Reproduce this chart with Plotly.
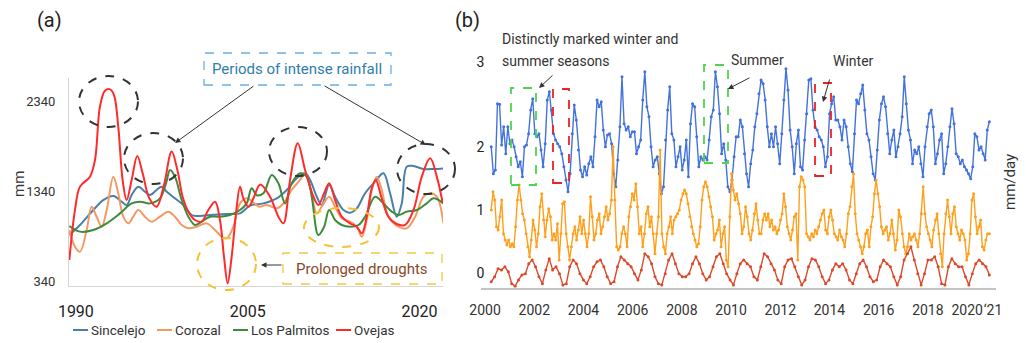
import numpy as np
import plotly.graph_objects as go

# ---------------- Panel (a): annual rainfall (mm) ----------------
sincelejo_year = [1989.43, 1990.36, 1991.52, 1992.39, 1993.27, 1994.00, 1994.43, 1994.87, 1995.45, 1996.03,
                  1996.47, 1997.05, 1997.49, 1997.93, 1998.65, 1999.38, 2000.11, 2000.55, 2001.71, 2003.17,
                  2004.33, 2005.20, 2006.37, 2007.53, 2008.41, 2009.28, 2010.01, 2010.45, 2011.03, 2011.46,
                  2012.11, 2012.63, 2013.36, 2013.94, 2014.52, 2015.25, 2016.12, 2016.85, 2017.43, 2018.01,
                  2018.45, 2018.89, 2019.47, 2020.34, 2021.22, 2022.09]
sincelejo_mm = [859, 970, 1136, 1247, 1292, 1229, 1192, 1303, 1396, 1340,
                1303, 1359, 1396, 1340, 1266, 1192, 1081, 1070, 1081, 1092,
                1099, 1185, 1210, 1266, 1359, 1488, 1544, 1470, 1284, 1192,
                1414, 1284, 1136, 1107, 1155, 1322, 1451, 1544, 1322, 1062,
                1210, 1618, 1625, 1592, 1592, 1599]

corozal_year = [1989.43, 1989.92, 1990.36, 1990.94, 1991.38, 1991.81, 1992.25, 1992.69, 1993.27, 1993.70,
                1994.14, 1994.58, 1995.01, 1995.45, 1996.03, 1996.61, 1997.34, 1998.07, 1998.65, 1999.24,
                1999.82, 2000.55, 2001.42, 2002.15, 2002.73, 2003.17, 2003.75, 2004.33, 2004.91, 2005.50,
                2006.00, 2006.66, 2007.53, 2008.12, 2008.84, 2009.57, 2010.01, 2010.45, 2011.03, 2011.46,
                2012.11, 2012.63, 2013.21, 2013.94, 2014.52, 2014.96, 2015.39, 2015.83, 2016.27, 2016.70,
                2017.29, 2018.16, 2018.89, 2019.62, 2020.34, 2020.93, 2021.51, 2022.09]
corozal_mm = [914, 729, 673, 914, 1173, 1062, 951, 1136, 1507, 1322,
              1062, 988, 1062, 1136, 1062, 1007, 1062, 1118, 1062, 970,
              933, 951, 988, 914, 840, 822, 951, 1210, 1266, 1220,
              1173, 1192, 1155, 1210, 1359, 1470, 1544, 1396, 1099, 1173,
              1284, 1173, 1044, 1007, 951, 840, 1025, 1359, 1507, 1359,
              1062, 951, 933, 1062, 1284, 1322, 1284, 988]

palmitos_year = [1989.43, 1990.36, 1991.52, 1992.69, 1993.85, 1994.87, 1995.60, 1996.47, 1997.34, 1997.87,
                 1998.22, 1998.65, 1999.24, 1999.82, 2000.40, 2000.98, 2001.71, 2002.58, 2003.46, 2004.33,
                 2004.91, 2005.35, 2005.79, 2006.37, 2007.10, 2007.68, 2008.26, 2008.84, 2009.57, 2010.15,
                 2010.59, 2011.17, 2011.67, 2012.11, 2012.63, 2013.21, 2013.94, 2014.67, 2015.25, 2016.12,
                 2016.85, 2017.58, 2018.16, 2018.89, 2019.76, 2020.63, 2021.22, 2022.09]
palmitos_mm = [959, 896, 914, 988, 1099, 1210, 1229, 1210, 1266, 1433,
               1581, 1507, 1247, 1062, 970, 1007, 1062, 1062, 1081, 1136,
               1210, 1377, 1300, 1322, 1525, 1433, 1210, 1433, 1544, 1507,
               1284, 859, 951, 1136, 1025, 970, 951, 970, 1062, 1284,
               1210, 1118, 1081, 1118, 1136, 1210, 1266, 1210]

ovejas_year = [1989.43, 1989.92, 1990.36, 1991.23, 1991.67, 1992.10, 1992.54, 1992.98, 1993.33, 1993.70,
               1994.08, 1994.43, 1994.87, 1995.36, 1995.83, 1996.41, 1997.05, 1997.69, 1998.36, 1998.86,
               1999.32, 1999.82, 2000.40, 2000.98, 2001.56, 2002.15, 2002.58, 2002.93, 2003.25, 2003.60,
               2003.98, 2004.33, 2004.62, 2005.06, 2005.50, 2006.10, 2006.95, 2007.68, 2008.12, 2008.70,
               2009.37, 2010.01, 2010.74, 2011.17, 2011.67, 2012.11, 2012.63, 2013.21, 2013.94, 2014.52,
               2014.96, 2015.39, 2015.83, 2016.18, 2016.70, 2017.29, 2018.01, 2018.74, 2019.47, 2020.20,
               2020.93, 2021.51, 2022.03]
ovejas_mm = [581, 1136, 1396, 1507, 1692, 2285, 2462, 2477, 2414, 2062,
             1470, 1247, 1470, 1736, 1544, 1266, 1173, 1414, 1785, 1581,
             1284, 1118, 1025, 1007, 1136, 1229, 1025, 618, 321, 618,
             1099, 1396, 1266, 1173, 1266, 1420, 1284, 1062, 988, 1470,
             1877, 1581, 1284, 1192, 1322, 1433, 1247, 1062, 988, 951,
             877, 1062, 1377, 1470, 1266, 1062, 981, 970, 1136, 1507,
             1710, 1507, 1210]

a_x_ticks = [1990, 2005, 2020]
a_y_ticks = [340, 1340, 2340]
a_names = ["Sincelejo", "Corozal", "Los Palmitos", "Ovejas"]
a_colors = ["#4a7fa8", "#f39a64", "#3c8c3c", "#ff2b2b"]

# ---------------- Panel (b): monthly series (mm/day) ----------------
b_first = 2000 + 3 / 12   # April 2000
b_last = 2020 + 6 / 12    # July 2020

b_blue = [2.02, 1.59, 1.65, 2.71, 2.70, 2.05, 2.34, 1.91, 2.34, 2.07, 2.13, 2.02, 1.86, 1.70, 1.78, 1.54, 2.02, 2.05,
          2.23, 2.61, 2.79, 2.23, 2.18, 2.23, 1.97, 1.70, 2.07, 2.77, 2.90, 2.61, 2.23, 2.13, 2.07, 2.02, 1.91, 1.70,
          1.49, 1.30, 1.59, 2.23, 2.69, 2.45, 1.97, 1.65, 1.54, 1.70, 1.57, 1.75, 1.86, 1.70, 2.18, 2.77, 2.66, 2.74,
          2.29, 2.02, 2.21, 2.23, 2.07, 1.59, 1.38, 1.81, 2.34, 3.14, 2.39, 2.29, 2.34, 2.18, 2.26, 2.26, 1.91, 2.02,
          2.13, 2.77, 3.22, 2.66, 2.50, 2.02, 1.70, 1.81, 1.86, 1.59, 1.27, 1.38, 2.13, 2.61, 2.98, 2.23, 2.13, 1.70,
          1.86, 2.02, 1.65, 1.81, 2.13, 1.54, 2.39, 2.71, 2.66, 2.18, 1.70, 1.86, 1.81, 1.86, 1.81, 2.13, 2.50, 2.61,
          3.22, 2.98, 2.55, 1.91, 2.07, 1.81, 1.38, 1.30, 1.49, 1.86, 2.18, 2.18, 2.45, 2.34, 1.91, 1.59, 1.38, 1.75,
          1.97, 2.34, 2.55, 2.87, 3.09, 3.03, 2.77, 2.34, 2.02, 2.23, 2.02, 2.34, 2.07, 1.75, 2.23, 2.77, 3.27, 2.93,
          2.29, 2.02, 1.59, 2.07, 2.29, 1.70, 1.65, 2.13, 2.55, 3.09, 3.11, 2.61, 2.34, 2.29, 2.18, 2.13, 2.02, 1.70,
          1.86, 2.55, 2.71, 2.82, 2.45, 2.45, 2.34, 2.13, 2.45, 2.34, 2.02, 1.75, 1.62, 2.23, 2.77, 2.71, 2.87, 3.01,
          2.61, 2.23, 2.13, 1.86, 1.59, 1.49, 1.97, 2.45, 2.71, 2.82, 2.66, 2.23, 1.91, 2.13, 2.29, 1.86, 2.02, 2.23,
          2.50, 3.14, 2.71, 2.29, 2.13, 1.75, 1.97, 1.91, 2.02, 1.75, 1.54, 2.02, 2.34, 2.55, 2.61, 2.34, 1.75, 1.91,
          2.13, 2.23, 1.59, 1.75, 2.02, 2.34, 2.63, 2.39, 1.91, 1.86, 1.75, 1.81, 1.70, 1.65, 1.59, 1.51, 1.70, 2.23,
          2.18, 1.97, 2.02, 1.91, 1.81, 2.29, 2.42]

b_orange = [1.01, 1.30, 1.17, 0.74, 0.69, 0.90, 1.17, 0.63, 0.53, 0.45, 0.53, 0.42, 0.47, 0.42, 0.74, 1.17, 1.41, 1.17,
            0.95, 0.85, 0.63, 0.42, 0.26, 0.53, 0.85, 0.69, 0.42, 0.63, 1.06, 1.27, 0.85, 0.58, 0.85, 1.03, 0.90, 0.53,
            0.63, 0.53, 0.79, 0.21, 0.63, 1.11, 1.14, 0.63, 0.42, 0.21, 0.42, 0.63, 0.74, 0.53, 0.69, 0.90, 0.63, 0.85,
            0.63, 0.42, 0.63, 1.22, 0.90, 0.53, 0.63, 0.85, 0.95, 0.63, 0.74, 0.90, 1.06, 0.85, 0.95, 1.17, 2.02, 1.17,
            0.42, 0.37, 0.42, 0.63, 0.74, 0.63, 0.42, 0.90, 1.06, 1.27, 1.17, 1.43, 1.06, 0.63, 0.74, 0.42, 0.63, 0.95,
            1.06, 0.74, 0.90, 0.63, 0.31, 0.63, 0.90, 1.97, 0.63, 0.42, 0.31, 0.63, 0.74, 0.90, 0.63, 0.85, 0.90, 0.95,
            1.01, 1.17, 1.27, 1.33, 1.27, 1.11, 0.90, 0.74, 0.63, 0.53, 0.42, 0.47, 0.74, 1.17, 1.38, 1.46, 1.38, 1.22,
            1.06, 0.90, 0.53, 0.63, 0.69, 0.85, 0.42, 0.63, 0.74, 0.21, 0.10, 0.90, 1.59, 1.33, 1.17, 1.27, 1.11, 0.95,
            0.63, 0.74, 1.06, 0.90, 0.63, 0.53, 0.69, 0.95, 1.11, 0.85, 0.63, 0.63, 0.85, 0.95, 0.85, 0.95, 0.74, 0.85,
            0.69, 0.74, 0.63, 0.69, 0.85, 0.95, 1.27, 1.06, 0.74, 0.63, 0.53, 0.69, 0.90, 0.95, 0.21, 1.38, 1.54, 1.49,
            1.38, 0.63, 0.58, 0.53, 0.63, 0.58, 0.69, 0.63, 0.74, 0.85, 0.95, 1.01, 0.69, 0.63, 0.90, 1.01, 0.85, 0.63,
            0.58, 0.53, 0.69, 0.58, 0.53, 0.42, 0.63, 0.95, 1.06, 1.38, 1.59, 0.95, 0.63, 0.53, 0.42, 0.31, 0.42, 0.63,
            0.69, 0.42, 0.74, 0.90, 1.27, 1.49, 1.27, 1.06, 0.74, 0.63, 0.69, 0.74, 0.53, 0.63, 0.85, 0.63, 0.37, 0.53,
            1.01, 0.90, 0.63, 0.42, 0.31, 0.42, 0.63, 0.53, 0.58, 0.63, 0.53, 0.42, 0.63, 0.95, 1.38, 0.95, 0.74, 0.63,
            0.53, 0.42, 0.69, 0.85, 0.95, 0.63, 0.31, 0.10, 0.63, 0.95, 1.17, 0.90, 0.63, 0.95, 1.06, 0.74, 0.63, 0.53,
            0.69, 0.63, 0.53, 0.21, 0.31, 0.63, 1.17, 1.27, 0.90, 0.63, 0.74, 0.85, 0.42, 0.37, 0.53, 0.63, 0.63]

b_red = [-0.14, -0.06, 0.07, 0.05, 0.10, 0.02, -0.17, -0.21, -0.11, -0.03, -0.01, 0.15, 0.21, 0.10, -0.06, -0.17,
         0.05, 0.23, 0.05, 0.10, -0.01, -0.19, -0.17, 0.10, 0.21, 0.15, -0.01, -0.11, -0.17, -0.06, 0.10, 0.18,
         0.21, 0.10, -0.06, -0.17, -0.14, 0.10, 0.26, 0.21, 0.15, 0.10, -0.01, -0.11, 0.05, 0.31, 0.26, 0.15,
         -0.06, -0.17, -0.19, -0.01, 0.21, 0.31, 0.15, -0.01, -0.06, -0.06, -0.01, 0.15, 0.26, 0.15, -0.01, -0.11,
         -0.06, 0.10, 0.26, 0.31, 0.15, -0.01, -0.11, -0.19, -0.01, 0.15, 0.21, 0.15, 0.10, -0.06, -0.11, 0.10,
         0.31, 0.26, 0.15, 0.05, -0.11, -0.17, 0.10, 0.21, 0.23, 0.10, -0.06, -0.19, -0.11, 0.10, 0.23, 0.21,
         0.10, -0.06, -0.17, -0.11, 0.05, 0.15, 0.10, 0.15, 0.05, -0.11, -0.17, -0.01, 0.15, 0.21, 0.10, -0.06,
         -0.14, -0.11, 0.10, 0.21, 0.15, 0.10, -0.06, -0.19, -0.06, 0.21, 0.31, 0.42, 0.21, -0.01, -0.19, -0.01,
         0.21, 0.21, 0.26, 0.10, -0.17, -0.19, 0.10, 0.23, 0.15, 0.10, 0.10, -0.06, -0.19, -0.01, 0.15, 0.21,
         0.15, 0.10, -0.03]

b_x_tick_pos = [2000, 2002, 2004, 2006, 2008, 2010, 2012, 2014, 2016, 2018, 2019.6, 2020.65]
b_x_tick_text = ["2000", "2002", "2004", "2006", "2008", "2010", "2012", "2014", "2016", "2018", "2020", "\u201821"]
b_y_tick_pos = [0, 1.01, 2.02, 3.38]
b_y_tick_text = ["0", "1", "2", "3"]
b_colors = ["#4372dc", "#ffa01c", "#db4a2b"]

W, H = 1026, 343


def px(x):
    return x / W


def py(y):
    return 1 - y / H


FONT_A = "Roboto, Arial, sans-serif"
FONT_B = "Roboto, Arial, sans-serif"

fig = go.Figure()

for yrs, vals, name, col in zip([sincelejo_year, corozal_year, palmitos_year, ovejas_year],
                                [sincelejo_mm, corozal_mm, palmitos_mm, ovejas_mm],
                                a_names, a_colors):
    fig.add_trace(go.Scatter(x=yrs, y=vals, name=name, mode="lines",
                             line=dict(color=col, width=2, shape="spline", smoothing=1.0),
                             xaxis="x", yaxis="y", hoverinfo="skip"))

for vals, col in zip([b_blue, b_orange, b_red], b_colors):
    xs = np.linspace(b_first, b_last, len(vals))
    fig.add_trace(go.Scatter(x=xs, y=vals, mode="lines+markers",
                             line=dict(color=col, width=1.4),
                             marker=dict(color=col, size=3),
                             xaxis="x2", yaxis="y2", hoverinfo="skip"))

shapes = []
annotations = []


def ellipse(x0, y0, x1, y1, color, width=2):
    shapes.append(dict(type="circle", xref="paper", yref="paper",
                       x0=px(x0), x1=px(x1), y0=py(y1), y1=py(y0),
                       line=dict(color=color, width=width, dash="dash")))


def box(x0, y0, x1, y1, color, width=1.3, fill="rgba(0,0,0,0)"):
    shapes.append(dict(type="rect", xref="paper", yref="paper",
                       x0=px(x0), x1=px(x1), y0=py(y1), y1=py(y0),
                       line=dict(color=color, width=width, dash="dash"), fillcolor=fill))


def arrow(hx, hy, tx, ty, color="#333333"):
    annotations.append(dict(xref="paper", yref="paper", x=px(hx), y=py(hy),
                            ax=tx - hx, ay=ty - hy, axref="pixel", ayref="pixel",
                            text="", showarrow=True, arrowhead=2, arrowsize=1.1,
                            arrowwidth=1, arrowcolor=color))


def text(x, y, s, size, color="#222222", family=FONT_B, xanchor="center", angle=0):
    annotations.append(dict(xref="paper", yref="paper", x=px(x), y=py(y), text=s,
                            showarrow=False, xanchor=xanchor, yanchor="middle",
                            textangle=angle, font=dict(size=size, color=color, family=family)))


# --- panel (a) decorations ---
ellipse(79, 76, 138, 127, "#333333")
ellipse(124, 133, 183, 184, "#333333")
ellipse(269, 127, 327, 176, "#333333")
ellipse(397, 144, 455, 194, "#333333")
ellipse(197, 238, 256, 290, "#f5c232")
ellipse(304, 208, 379, 247, "#f5c232")

box(204, 53, 391, 85, "#6aaee6", fill="white")
box(283, 253, 442, 284, "#f5c842", fill="white")
text(297, 69, "Periods of intense rainfall", 15, "#2f7ea8", FONT_A)
text(362, 268.5, "Prolonged droughts", 15, "#8a4a2a", FONT_A)
arrow(175, 143, 255, 85)
arrow(426, 145, 323, 85)
arrow(261, 265, 283, 265)

text(49, 20, "(a)", 20, "#222222", FONT_B)
text(467, 20, "(b)", 20, "#222222", FONT_B)
text(19, 184, "mm", 15, "#333333", FONT_A, angle=-90)

# manual legend for (a)
leg = [(73, 88, "Sincelejo"), (157, 172, "Corozal"), (233, 248, "Los Palmitos"), (336, 351, "Ovejas")]
for (l0, l1, name), col in zip(leg, a_colors):
    shapes.append(dict(type="line", xref="paper", yref="paper", x0=px(l0), x1=px(l1),
                       y0=py(330), y1=py(330), line=dict(color=col, width=2)))
    text(l1 + 1, 330, name, 13.5, "#333333", FONT_A, xanchor="left")

# --- panel (b) decorations ---
box(511, 88, 536, 185, "#4fd44f", width=1.8)
box(553, 89, 569, 183, "#ee2222", width=1.8)
box(704, 65, 728, 163, "#4fd44f", width=1.8)
box(815, 83, 831, 176, "#ee2222", width=1.8)
text(500, 39, "Distinctly marked winter and", 14, "#333333", FONT_B, xanchor="left")
text(500, 61, "summer seasons", 14, "#333333", FONT_B, xanchor="left")
text(757, 60, "Summer", 14, "#333333", FONT_B)
text(853, 61, "Winter", 14, "#333333", FONT_B)
arrow(539, 88, 554, 74)
arrow(728, 89, 751, 77)
arrow(823, 102, 830, 78)
text(1010, 182, "mm/day", 15, "#333333", FONT_B, angle=-90)

fig.update_layout(
    width=W, height=H, margin=dict(l=0, r=0, t=0, b=0, autoexpand=False),
    paper_bgcolor="white", plot_bgcolor="white", showlegend=False,
    xaxis=dict(domain=[px(69), px(443)], range=[1989.4, 2022.05], anchor="y", automargin=False,
               showline=True, linecolor="#d6d6d6", linewidth=1, showgrid=False, zeroline=False,
               tickvals=a_x_ticks, ticks="", ticklabelstandoff=11, tickangle=0,
               tickfont=dict(size=16, color="#222222", family=FONT_A)),
    yaxis=dict(domain=[py(286), py(78)], range=[292, 2603], anchor="x", automargin=False,
               showline=True, linecolor="#d6d6d6", linewidth=1, showgrid=False, zeroline=False,
               tickvals=a_y_ticks, ticks="", ticklabelstandoff=10,
               tickfont=dict(size=13, color="#333333", family=FONT_A)),
    xaxis2=dict(domain=[px(481.4), px(995.5)], range=[1999.85, 2020.75], anchor="y2", automargin=False,
                showline=True, linecolor="#c4c4c4", linewidth=1.5, showgrid=False, zeroline=False,
                tickvals=b_x_tick_pos, ticktext=b_x_tick_text, ticks="", ticklabelstandoff=9,
                tickangle=0, tickfont=dict(size=14, color="#333333", family=FONT_B)),
    yaxis2=dict(domain=[py(287.7), py(40)], range=[-0.235, 3.728], anchor="x2", automargin=False,
                showline=False, showgrid=False, zeroline=False,
                tickvals=b_y_tick_pos, ticktext=b_y_tick_text, ticks="", ticklabelstandoff=-4,
                tickfont=dict(size=14, color="#222222", family=FONT_B)),
    shapes=shapes, annotations=annotations,
)

fig.write_html("out.html")
